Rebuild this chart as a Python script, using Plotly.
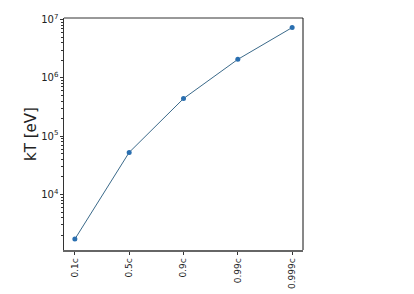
import plotly.graph_objects as go

categories = ["0.1c", "0.5c", "0.9c", "0.99c", "0.999c"]
kT_eV = [1716, 52700, 440800, 2074000, 7280000]

fig = go.Figure()
fig.add_trace(go.Scatter(
    x=list(range(len(categories))), y=kT_eV, mode="lines+markers",
    line=dict(color="#3b6a8a", width=1),
    marker=dict(color="#2a6fb0", size=5),
))
fig.update_layout(
    width=414, height=294,
    margin=dict(l=64, r=111, t=18, b=44),
    paper_bgcolor="white", plot_bgcolor="white",
    showlegend=False,
    font=dict(family="DejaVu Sans", color="#222"),
)
fig.update_xaxes(
    range=[-0.2, 4.2], tickmode="array", tickvals=list(range(len(categories))),
    ticktext=categories, tickangle=-90, tickfont=dict(size=9), automargin=False,
    showgrid=False, zeroline=False, showline=True, linecolor="#666", linewidth=1.5,
    mirror=False, ticks="outside", ticklen=3, tickcolor="#333",
)
fig.update_yaxes(
    type="log", range=[3.048, 7.026], dtick=1, exponentformat="power",
    tickfont=dict(size=8), showgrid=False, zeroline=False, automargin=False,
    showline=True, linecolor="#333", linewidth=1, ticks="outside", ticklen=3,
    tickcolor="#333",
    minor=dict(ticks="outside", ticklen=2, dtick="D1", tickcolor="#333", showgrid=False),
    title=dict(text="kT [eV]", font=dict(size=15), standoff=0),
)
# top and right spines
fig.add_shape(type="line", xref="paper", yref="paper", x0=0, x1=1, y0=1, y1=1,
              line=dict(color="#333", width=1))
fig.add_shape(type="line", xref="paper", yref="paper", x0=1, x1=1, y0=0, y1=1,
              line=dict(color="#111", width=1))
fig.write_html("out.html")
